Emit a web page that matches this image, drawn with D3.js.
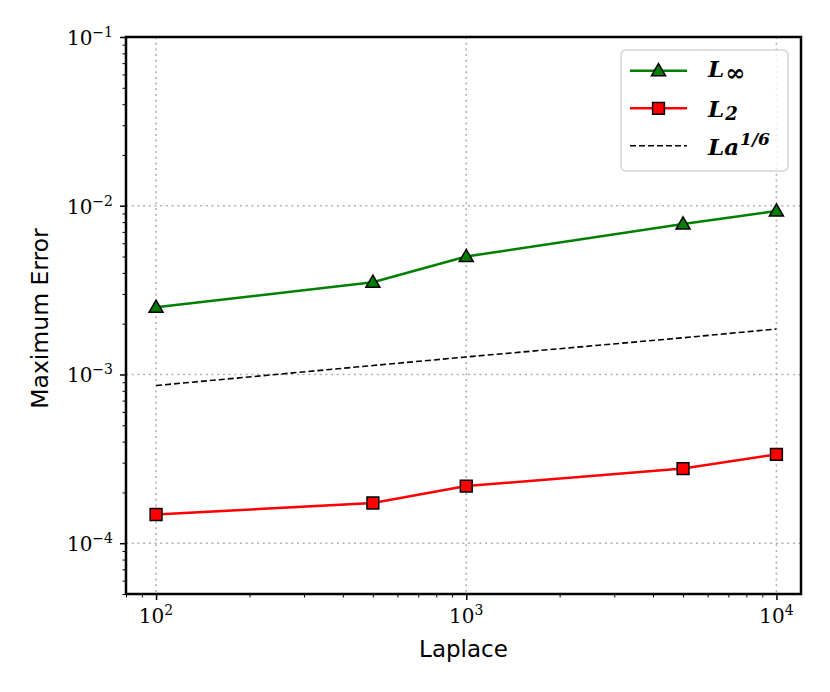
<!DOCTYPE html>
<html>
<head>
<meta charset="utf-8">
<script src="https://cdn.jsdelivr.net/npm/d3@7"></script>
<style>
  body { margin: 0; background: #fff; }
</style>
</head>
<body>
<div id="chart"></div>
<script>
// Data
const LAPLACE = [100, 500, 1000, 5000, 10000];
const L_INF = [2.5e-3, 3.52e-3, 5.0e-3, 7.8e-3, 9.3e-3];
const L_TWO = [1.48e-4, 1.73e-4, 2.18e-4, 2.77e-4, 3.36e-4];
const LA_SIXTH = [8.6e-4, 1.13e-3, 1.27e-3, 1.65e-3, 1.86e-3];

const X_TICKS = [100, 1000, 10000];
const X_TICK_EXP = ["2", "3", "4"];
const Y_TICKS = [1e-4, 1e-3, 1e-2, 1e-1];
const Y_TICK_EXP = ["\u22124", "\u22123", "\u22122", "\u22121"];

const X_DOMAIN = [80, 12000];
const Y_DOMAIN = [5e-5, 1e-1];

const WIDTH = 830, HEIGHT = 692;
const LEFT = 126, RIGHT = 801, TOP = 37, BOTTOM = 594;

const SERIF = "'DejaVu Serif', serif";
const SANS = "'DejaVu Sans', sans-serif";

var svg = d3.select("#chart")
  .append("svg")
  .attr("width", WIDTH)
  .attr("height", HEIGHT);

var x = d3.scaleLog().domain(X_DOMAIN).range([LEFT, RIGHT]);
var y = d3.scaleLog().domain(Y_DOMAIN).range([BOTTOM, TOP]);

function isPower(v) {
  var l = Math.log10(v);
  return Math.abs(l - Math.round(l)) < 1e-9;
}

// Grid
var grid = svg.append("g")
  .attr("stroke", "#b0b0b0")
  .attr("stroke-width", 1.6)
  .attr("stroke-dasharray", "2,3.7");

grid.selectAll("line.gx")
  .data(X_TICKS)
  .enter().append("line")
  .attr("x1", function(d) { return x(d); })
  .attr("x2", function(d) { return x(d); })
  .attr("y1", TOP)
  .attr("y2", BOTTOM);

grid.selectAll("line.gy")
  .data(Y_TICKS.filter(function(d) { return d < Y_DOMAIN[1]; }))
  .enter().append("line")
  .attr("y1", function(d) { return y(d); })
  .attr("y2", function(d) { return y(d); })
  .attr("x1", LEFT)
  .attr("x2", RIGHT);

// Minor ticks
var xMinor = x.ticks().filter(function(d) { return !isPower(d); });
var yMinor = y.ticks().filter(function(d) { return !isPower(d); });

var xAxisMinor = svg.append("g")
  .attr("transform", "translate(0," + BOTTOM + ")")
  .call(d3.axisBottom(x).tickValues(xMinor).tickSize(3.5).tickFormat(""));
var xAxisMajor = svg.append("g")
  .attr("transform", "translate(0," + BOTTOM + ")")
  .call(d3.axisBottom(x).tickValues(X_TICKS).tickSize(6).tickFormat(""));
var yAxisMinor = svg.append("g")
  .attr("transform", "translate(" + LEFT + ",0)")
  .call(d3.axisLeft(y).tickValues(yMinor).tickSize(3.5).tickFormat(""));
var yAxisMajor = svg.append("g")
  .attr("transform", "translate(" + LEFT + ",0)")
  .call(d3.axisLeft(y).tickValues(Y_TICKS).tickSize(6).tickFormat(""));

[xAxisMinor, yAxisMinor].forEach(function(g) {
  g.select(".domain").remove();
  g.selectAll(".tick line").attr("stroke", "#000").attr("stroke-width", 1);
});
[xAxisMajor, yAxisMajor].forEach(function(g) {
  g.select(".domain").remove();
  g.selectAll(".tick line").attr("stroke", "#000").attr("stroke-width", 1.5);
});

// Tick labels with superscripts
var xLabels = svg.append("g")
  .selectAll("text")
  .data(X_TICKS)
  .enter().append("text")
  .attr("x", function(d) { return x(d); })
  .attr("y", 623)
  .attr("text-anchor", "middle")
  .attr("font-family", SERIF)
  .attr("font-size", 20);
xLabels.append("tspan").text("10");
xLabels.append("tspan")
  .attr("dy", -8)
  .attr("font-size", 14)
  .text(function(d, i) { return X_TICK_EXP[i]; });

var yLabels = svg.append("g")
  .selectAll("text")
  .data(Y_TICKS)
  .enter().append("text")
  .attr("x", 113)
  .attr("y", function(d) { return y(d) + 8; })
  .attr("text-anchor", "end")
  .attr("font-family", SERIF)
  .attr("font-size", 20);
yLabels.append("tspan").text("10");
yLabels.append("tspan")
  .attr("dy", -8)
  .attr("font-size", 14)
  .text(function(d, i) { return Y_TICK_EXP[i]; });

// Axis titles
svg.append("text")
  .attr("x", (LEFT + RIGHT) / 2)
  .attr("y", 657)
  .attr("text-anchor", "middle")
  .attr("font-family", SANS)
  .attr("font-size", 23)
  .text("Laplace");

svg.append("text")
  .attr("transform", "translate(48," + ((TOP + BOTTOM) / 2 + 3) + ") rotate(-90)")
  .attr("text-anchor", "middle")
  .attr("font-family", SANS)
  .attr("font-size", 23.5)
  .text("Maximum Error");

// Series
var line = d3.line()
  .x(function(d) { return x(d[0]); })
  .y(function(d) { return y(d[1]); });

var triangle = d3.symbol().type(d3.symbolTriangle).size(85);
var square = d3.symbol().type(d3.symbolSquare).size(140);

var series = [
  { values: L_INF, color: "#008000", width: 2.5, dash: null, marker: triangle, fill: "#008000" },
  { values: L_TWO, color: "#ff0000", width: 2.5, dash: null, marker: square, fill: "#ff0000" },
  { values: LA_SIXTH, color: "#000000", width: 1.6, dash: "6,3", marker: null }
];

var plot = svg.append("g");

series.forEach(function(s) {
  var pts = LAPLACE.map(function(l, i) { return [l, s.values[i]]; });
  plot.append("path")
    .attr("d", line(pts))
    .attr("fill", "none")
    .attr("stroke", s.color)
    .attr("stroke-width", s.width)
    .attr("stroke-dasharray", s.dash);
  if (s.marker) {
    plot.selectAll(null)
      .data(pts)
      .enter().append("path")
      .attr("d", s.marker)
      .attr("transform", function(d) {
        var off = s.marker === triangle ? 1 : 0;
        return "translate(" + x(d[0]) + "," + (y(d[1]) + off) + ")";
      })
      .attr("fill", s.fill)
      .attr("stroke", "#000")
      .attr("stroke-width", 1.5);
  }
});

// Spines
svg.append("rect")
  .attr("x", LEFT)
  .attr("y", TOP)
  .attr("width", RIGHT - LEFT)
  .attr("height", BOTTOM - TOP)
  .attr("fill", "none")
  .attr("stroke", "#000")
  .attr("stroke-width", 2.5);

// Legend
const LEG_X = 621, LEG_Y = 50, LEG_W = 167, LEG_H = 121;
var legend = svg.append("g");
legend.append("rect")
  .attr("x", LEG_X)
  .attr("y", LEG_Y)
  .attr("width", LEG_W)
  .attr("height", LEG_H)
  .attr("rx", 5)
  .attr("fill", "rgba(255,255,255,0.8)")
  .attr("stroke", "#d4d4d4")
  .attr("stroke-width", 1.5);

var rows = [70.7, 108.3, 145.7];
series.forEach(function(s, i) {
  legend.append("line")
    .attr("x1", 630)
    .attr("x2", 687)
    .attr("y1", rows[i])
    .attr("y2", rows[i])
    .attr("stroke", s.color)
    .attr("stroke-width", s.width)
    .attr("stroke-dasharray", s.dash);
  if (s.marker) {
    legend.append("path")
      .attr("d", s.marker)
      .attr("transform", "translate(658.5," + (rows[i] + (s.marker === triangle ? 1 : 0)) + ")")
      .attr("fill", s.fill)
      .attr("stroke", "#000")
      .attr("stroke-width", 1.5);
  }
});

function legendText(row, base, script, drop, size, shift) {
  var t = legend.append("text")
    .attr("x", 708)
    .attr("y", rows[row] + drop)
    .attr("font-family", SERIF)
    .attr("font-weight", "bold")
    .attr("font-style", "italic")
    .attr("font-size", 23);
  t.append("tspan").text(base);
  t.append("tspan")
    .attr("dx", 1)
    .attr("dy", shift)
    .attr("font-size", size)
    .attr("font-style", script === "\u221e" ? "normal" : "italic")
    .text(script);
}
legendText(0, "L", "\u221e", 6, 24, 4);
legendText(1, "L", "2", 8.5, 18, 3);
legendText(2, "La", "1/6", 9, 17, -10);
</script>
</body>
</html>
